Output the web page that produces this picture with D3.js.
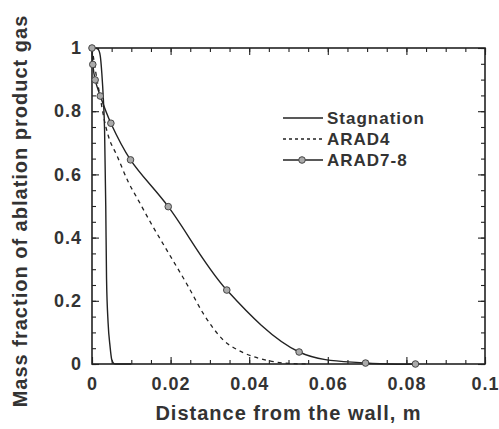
<!DOCTYPE html>
<html>
<head>
<meta charset="utf-8">
<script src="https://cdn.jsdelivr.net/npm/d3@7"></script>
<style>
  html, body { margin: 0; padding: 0; background: #fff; }
  svg text { font-family: "Liberation Sans", Arial, sans-serif; font-weight: bold; fill: #333; }
</style>
</head>
<body>
<svg id="chart" width="499" height="429"></svg>
<script>
// Stagnation-line profile
const stagX = [0, 0.001, 0.0016, 0.0021, 0.0025, 0.0029, 0.0032, 0.0035, 0.0037, 0.0041, 0.0046, 0.0050, 0.0055, 0.0060, 0.0100];
const stagY = [1.0, 0.999, 0.995, 0.975, 0.92, 0.835, 0.74, 0.50, 0.27, 0.13, 0.055, 0.015, 0.002, 0.0, 0.0];

// ARAD4 profile
const arad4X = [0, 0.0005, 0.001, 0.002, 0.003, 0.0042, 0.0063, 0.0092, 0.0118, 0.0148, 0.0190, 0.0245, 0.0283, 0.0334, 0.0385, 0.0444, 0.0500, 0.0550];
const arad4Y = [1.0, 0.96, 0.92, 0.85, 0.78, 0.72, 0.661, 0.577, 0.518, 0.45, 0.361, 0.245, 0.16, 0.076, 0.036, 0.012, 0.002, 0.0];

// ARAD7-8 profile (every point carries a marker)
const arad78X = [0, 0.0002, 0.0008, 0.0021, 0.0048, 0.0098, 0.0194, 0.0343, 0.0527, 0.0696, 0.0823];
const arad78Y = [1.0, 0.948, 0.899, 0.848, 0.762, 0.646, 0.498, 0.234, 0.038, 0.003, 0.0];

const xMajor = [0, 0.02, 0.04, 0.06, 0.08, 0.1];
const xMajorLabels = ["0", "0.02", "0.04", "0.06", "0.08", "0.1"];
const yMajor = [0, 0.2, 0.4, 0.6, 0.8, 1];
const yMajorLabels = ["0", "0.2", "0.4", "0.6", "0.8", "1"];

const seriesNames = ["Stagnation", "ARAD4", "ARAD7-8"];

const svg = d3.select("#chart");
const L = 92, R = 485, T = 48, B = 364;
const x = d3.scaleLinear().domain([0, 0.1]).range([L, R]);
const y = d3.scaleLinear().domain([0, 1]).range([B, T]);

const ink = "#222";

// minor ticks every 0.005 on x and 0.05 on y
const xMinor = d3.range(0, 0.1001, 0.005);
const yMinor = d3.range(0, 1.0001, 0.05);

function styleAxis(g) {
  g.select(".domain").remove();
  g.selectAll("line").attr("stroke", ink).attr("stroke-width", 1.1);
}
function styleLabels(g) {
  g.selectAll("text").attr("font-size", 18).attr("letter-spacing", 1)
    .attr("fill", "#333").attr("font-family", "Liberation Sans, Arial, sans-serif");
}

// bottom
svg.append("g").attr("transform", `translate(0,${B})`)
  .call(d3.axisBottom(x).tickValues(xMinor).tickSize(-4).tickFormat(""))
  .call(styleAxis);
svg.append("g").attr("transform", `translate(0,${B})`)
  .call(d3.axisBottom(x).tickValues(xMajor).tickSize(-7).tickPadding(13)
    .tickFormat((d, i) => xMajorLabels[i]))
  .call(styleAxis).call(styleLabels);
// top
svg.append("g").attr("transform", `translate(0,${T})`)
  .call(d3.axisTop(x).tickValues(xMinor).tickSize(-4).tickFormat(""))
  .call(styleAxis);
svg.append("g").attr("transform", `translate(0,${T})`)
  .call(d3.axisTop(x).tickValues(xMajor).tickSize(-7).tickFormat(""))
  .call(styleAxis);
// left
svg.append("g").attr("transform", `translate(${L},0)`)
  .call(d3.axisLeft(y).tickValues(yMinor).tickSize(-4).tickFormat(""))
  .call(styleAxis);
svg.append("g").attr("transform", `translate(${L},0)`)
  .call(d3.axisLeft(y).tickValues(yMajor).tickSize(-7).tickPadding(10)
    .tickFormat((d, i) => yMajorLabels[i]))
  .call(styleAxis).call(styleLabels);
// right
svg.append("g").attr("transform", `translate(${R},0)`)
  .call(d3.axisRight(y).tickValues(yMinor).tickSize(-4).tickFormat(""))
  .call(styleAxis);
svg.append("g").attr("transform", `translate(${R},0)`)
  .call(d3.axisRight(y).tickValues(yMajor).tickSize(-7).tickFormat(""))
  .call(styleAxis);

// frame
svg.append("rect").attr("x", L).attr("y", T).attr("width", R - L).attr("height", B - T)
  .attr("fill", "none").attr("stroke", ink).attr("stroke-width", 1.6);

const zip = (xs, ys) => xs.map((v, i) => [v, ys[i]]);
const monoLine = d3.line().x(d => x(d[0])).y(d => y(d[1])).curve(d3.curveMonotoneX);
const smoothLine = d3.line().x(d => x(d[0])).y(d => y(d[1])).curve(d3.curveCatmullRom.alpha(0.5));

svg.append("path").datum(zip(stagX, stagY)).attr("d", monoLine)
  .attr("fill", "none").attr("stroke", ink).attr("stroke-width", 1.4);
svg.append("path").datum(zip(arad4X, arad4Y)).attr("d", monoLine)
  .attr("fill", "none").attr("stroke", ink).attr("stroke-width", 1.3)
  .attr("stroke-dasharray", "4,4");
const a78 = zip(arad78X, arad78Y);
svg.append("path").datum(a78).attr("d", smoothLine)
  .attr("fill", "none").attr("stroke", ink).attr("stroke-width", 1.4);
svg.append("g").selectAll("circle").data(a78).join("circle")
  .attr("cx", d => x(d[0])).attr("cy", d => y(d[1])).attr("r", 3.3)
  .attr("fill", "#aaa").attr("stroke", "#444").attr("stroke-width", 1);

// legend
const legY = [118, 139, 160];
const lg = svg.append("g");
seriesNames.forEach((name, i) => {
  const ln = lg.append("line").attr("x1", 283).attr("x2", 323)
    .attr("y1", legY[i]).attr("y2", legY[i]).attr("stroke", ink).attr("stroke-width", 1.3);
  if (i === 1) ln.attr("stroke-dasharray", "3,3");
  if (i === 2) lg.append("circle").attr("cx", 302).attr("cy", legY[i]).attr("r", 3.3)
    .attr("fill", "#aaa").attr("stroke", "#444").attr("stroke-width", 1);
  lg.append("text").attr("x", 327).attr("y", legY[i] + 6).attr("font-size", 17)
    .attr("letter-spacing", 1).text(name);
});

// axis titles
svg.append("text").attr("x", (L + R) / 2).attr("y", 420).attr("text-anchor", "middle")
  .attr("font-size", 20).attr("letter-spacing", 1).text("Distance from the wall, m");
svg.append("text").attr("transform", "translate(27,211) rotate(-90)").attr("text-anchor", "middle")
  .attr("font-size", 20).attr("letter-spacing", 1).text("Mass fraction of ablation product gas");
</script>
</body>
</html>
